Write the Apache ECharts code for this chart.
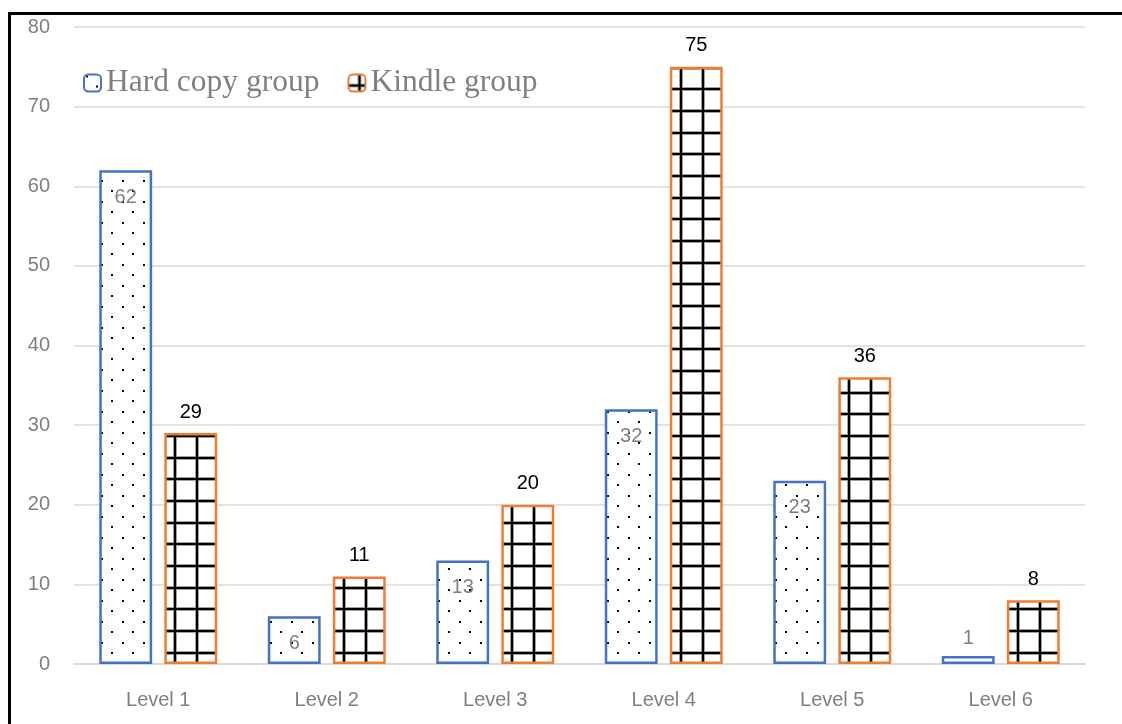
<!DOCTYPE html>
<html>
<head>
<meta charset="utf-8">
<script src="https://cdn.jsdelivr.net/npm/echarts@6/dist/echarts.min.js"></script>
<style>
  html, body { margin: 0; padding: 0; background: #fff; }
  #chart { position: absolute; left: 0; top: 0; width: 1122px; height: 724px; }
  #frame { position: absolute; left: 8px; top: 12px; width: 1114px; height: 712px;
           border-top: 3px solid #000; border-left: 3px solid #000; box-sizing: border-box; pointer-events: none; }
</style>
</head>
<body>
<div id="chart"></div>
<div id="frame"></div>
<script>
// Reading levels by group
const categories = ['Level 1', 'Level 2', 'Level 3', 'Level 4', 'Level 5', 'Level 6'];
const hardCopy = [62, 6, 13, 32, 23, 1];
const kindle = [29, 11, 20, 75, 36, 8];
const seriesNames = ['Hard copy group', 'Kindle group'];
const yTicks = { min: 0, max: 80, interval: 10 };

// Staggered dot fill (21px tile)
function dotPattern() {
  const c = document.createElement('canvas');
  c.width = 21; c.height = 21;
  const g = c.getContext('2d');
  g.fillStyle = '#fff'; g.fillRect(0, 0, 21, 21);
  g.fillStyle = '#000';
  g.fillRect(2, 1, 2, 2);
  g.fillRect(12, 11, 2, 2);
  return c;
}

// Square grid fill: 22px columns, three rows per 65px tile
function gridPattern() {
  const c = document.createElement('canvas');
  c.width = 22; c.height = 65;
  const g = c.getContext('2d');
  g.fillStyle = '#fff'; g.fillRect(0, 0, 22, 65);
  const rows = [10, 32, 54];
  g.fillStyle = '#a0a0a0';
  g.fillRect(9, 0, 4, 65);
  rows.forEach(r => g.fillRect(0, r - 1, 22, 4));
  g.fillStyle = '#000';
  g.fillRect(10, 0, 2, 65);
  rows.forEach(r => g.fillRect(0, r, 22, 2));
  return c;
}

const dotImg = dotPattern();
const gridImg = gridPattern();

const chart = echarts.init(document.getElementById('chart'), null, { renderer: 'canvas' });

const axisFont = { fontFamily: 'Liberation Sans', fontSize: 20, color: '#7f7f7f' };

function hardCopyData(offsets) {
  return hardCopy.map((v, i) => {
    const item = { value: v };
    if (v < 3) item.label = { position: 'top', distance: 8 };
    if (offsets) item.itemStyle = { color: { image: dotImg, repeat: 'repeat', x: offsets[i].x, y: offsets[i].y } };
    return item;
  });
}

function kindleData(offsets) {
  return kindle.map((v, i) => {
    const item = { value: v };
    if (offsets) item.itemStyle = { color: { image: gridImg, repeat: 'repeat', x: offsets[i].x, y: offsets[i].y } };
    return item;
  });
}

chart.setOption({
  animation: false,
  backgroundColor: '#fff',
  grid: { left: 74, right: 37, top: 27, bottom: 60 },
  legend: {
    left: 78, top: 62,
    itemWidth: 17, itemHeight: 17, itemGap: 28,
    textStyle: { fontFamily: 'Liberation Serif', fontSize: 31.5, color: '#808080' },
    data: seriesNames
  },
  xAxis: {
    type: 'category',
    data: categories,
    axisLine: { lineStyle: { color: '#d9d9d9', width: 2 } },
    axisTick: { show: false },
    axisLabel: Object.assign({ margin: 26 }, axisFont)
  },
  yAxis: {
    type: 'value',
    min: yTicks.min, max: yTicks.max, interval: yTicks.interval,
    axisLine: { show: false },
    axisTick: { show: false },
    splitLine: { lineStyle: { color: '#d9d9d9', width: 1.5 } },
    axisLabel: Object.assign({ margin: 24 }, axisFont)
  },
  series: [
    {
      name: seriesNames[0],
      type: 'bar',
      barGap: '23%',
      barCategoryGap: '30%',
      data: hardCopyData(null),
      itemStyle: {
        color: { image: dotImg, repeat: 'repeat' },
        borderColor: '#4472c4',
        borderWidth: 2.5
      },
      label: {
        show: true,
        position: 'insideTop',
        distance: 17,
        fontFamily: 'Liberation Sans', fontSize: 20, color: '#7f7f7f'
      }
    },
    {
      name: seriesNames[1],
      type: 'bar',
      data: kindleData(null),
      itemStyle: {
        color: { image: gridImg, repeat: 'repeat' },
        borderColor: '#ed7d31',
        borderWidth: 2.5
      },
      label: {
        show: true,
        position: 'top',
        distance: 11,
        fontFamily: 'Liberation Sans', fontSize: 20, color: '#000'
      }
    }
  ]
});

// Anchor each bar's fill to its own left edge and base, so the pattern starts the same way in every bar
function barOffsets(seriesIndex, dy) {
  const data = chart.getModel().getSeriesByIndex(seriesIndex).getData();
  return data.mapArray((idx) => {
    const l = data.getItemLayout(idx);
    const left = Math.min(l.x, l.x + l.width);
    const bottom = Math.max(l.y, l.y + l.height);
    return { x: Math.round(left), y: Math.round(bottom - dy) };
  });
}

chart.setOption({
  series: [
    { data: hardCopyData(barOffsets(0, 21 * 30 + 2)) },
    { data: kindleData(barOffsets(1, 66)) }
  ]
});
</script>
</body>
</html>
